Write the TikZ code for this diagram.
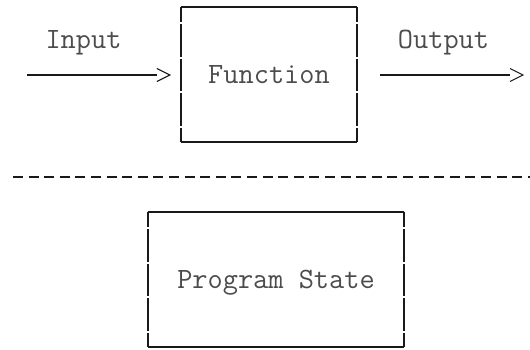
\documentclass[tikz,border=0pt]{standalone}
\usetikzlibrary{arrows.meta}

\tikzset{
  mono/.style={font=\ttfamily\fontsize{29.5}{34}\selectfont, text=black!70},
  asciibox/.style={mono, draw=none, inner sep=0pt, text height=17pt, text depth=0pt},
  boxrule/.style={draw=black!90, line width=1.6pt},
  boxside/.style={draw=black!90, line width=1.6pt, dash pattern=on 32.8pt off 1.7pt, dash phase=17.3pt},
  flow/.style={draw=black!90, line width=1.5pt},
  barb/.style={draw=black!90, line width=1.1pt, line join=miter},
  divider/.style={draw=black!90, line width=1.6pt, dash pattern=on 10pt off 5.6pt}
}

\begin{document}
\begin{tikzpicture}[x=1pt, y=-1pt]
  \useasboundingbox (0,0) rectangle (530,349);

  % function block
  \node[asciibox, minimum width=176pt, minimum height=135pt] (fn) at (269,74.5) {Function};
  \draw[boxrule] (fn.north west) -- (fn.north east);
  \draw[boxrule] (fn.south west) -- (fn.south east);
  \draw[boxside] (fn.north west) -- (fn.south west);
  \draw[boxside] (fn.north east) -- (fn.south east);

  % input / output labels
  \node[mono, anchor=base] (inlbl) at (83.5,48) {Input};
  \node[mono, anchor=base] (outlbl) at (443.5,48) {Output};

  % input arrow: a dash line ending at the open side of a '>'
  \coordinate (src) at (27,75);
  \coordinate (intip) at ([xshift=-11pt]fn.west |- src);
  \draw[flow] (src) -- ([xshift=-13pt]intip);
  \draw[barb] ([shift={(-13pt,6.5pt)}]intip) -- (intip) -- ([shift={(-13pt,-6.5pt)}]intip);

  % output arrow
  \coordinate (sink) at (523,75);
  \draw[flow] ([xshift=23pt]fn.east |- sink) -- ([xshift=-13pt]sink);
  \draw[barb] ([shift={(-13pt,6.5pt)}]sink) -- (sink) -- ([shift={(-13pt,-6.5pt)}]sink);

  % separator
  \draw[divider] (13,177) -- (530,177);

  % program state block
  \node[asciibox, minimum width=256pt, minimum height=135pt] (ps) at (276,279.5) {Program State};
  \draw[boxrule] (ps.north west) -- (ps.north east);
  \draw[boxrule] (ps.south west) -- (ps.south east);
  \draw[boxside] (ps.north west) -- (ps.south west);
  \draw[boxside] (ps.north east) -- (ps.south east);
\end{tikzpicture}
\end{document}
